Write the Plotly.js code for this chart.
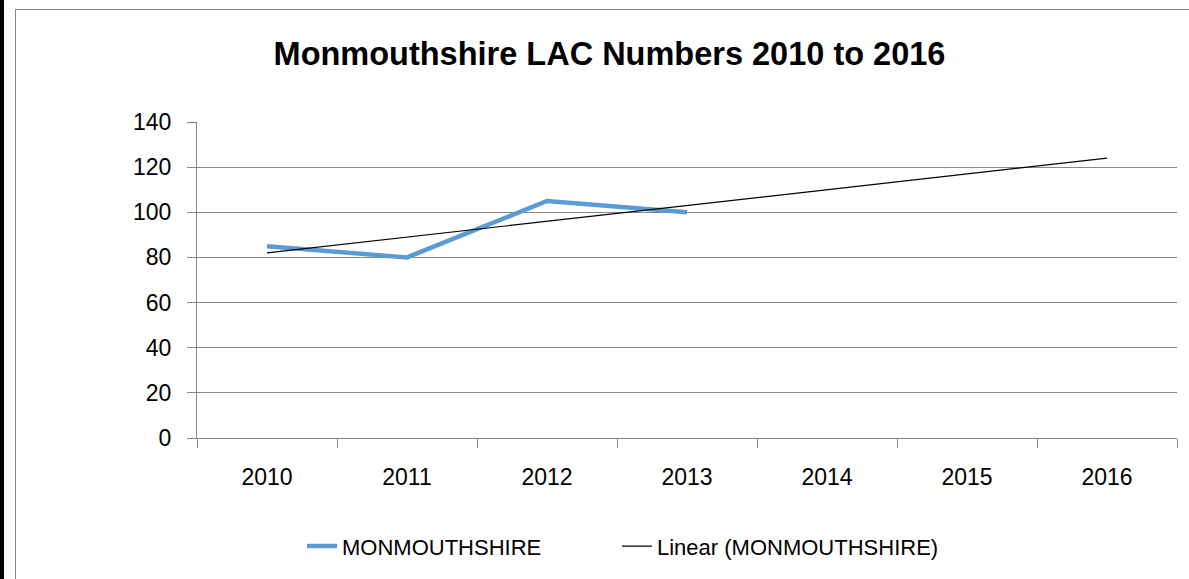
<!DOCTYPE html>
<html>
<head>
<meta charset="utf-8">
<script src="https://cdn.plot.ly/plotly-3.0.1.min.js"></script>
<style>
  html, body { margin: 0; padding: 0; background: #fff; width: 1189px; height: 579px; overflow: hidden; }
  #bar { position: absolute; left: 0; top: 0; width: 4px; height: 579px; background: #000; }
  #frame { position: absolute; left: 15px; top: 9px; width: 1200px; height: 620px; border: 1px solid #868686; box-sizing: border-box; }
  #chart { position: absolute; left: 0; top: 0; width: 1189px; height: 579px; }
</style>
</head>
<body>
<div id="bar"></div>
<div id="frame"></div>
<div id="chart"></div>
<script>
// Data
const years = ["2010", "2011", "2012", "2013", "2014", "2015", "2016"];
const seriesYears = ["2010", "2011", "2012", "2013"];
const monmouthshire = [85, 80, 105, 100];
const trendYears = ["2010", "2011", "2012", "2013", "2014", "2015", "2016"];
const trendValues = [82, 89, 96, 103, 110, 117, 124];
const yTicks = [0, 20, 40, 60, 80, 100, 120, 140];

const fontFam = '"Liberation Sans", Arial, sans-serif';
const grid = '#878787';

const traces = [
  {
    type: 'scatter', mode: 'lines', name: 'MONMOUTHSHIRE',
    x: seriesYears, y: monmouthshire,
    line: { color: '#5B9BD5', width: 4.5 },
    legend: 'legend'
  },
  {
    type: 'scatter', mode: 'lines', name: 'Linear (MONMOUTHSHIRE)',
    x: trendYears, y: trendValues,
    line: { color: '#000000', width: 1.2 },
    legend: 'legend2'
  }
];

const legY = (440.7 - 550) / 319;
const legendBase = {
  orientation: 'h', xanchor: 'left', yanchor: 'middle', y: legY,
  font: { family: fontFam, size: 22, color: '#000' },
  bgcolor: 'rgba(0,0,0,0)', borderwidth: 0
};

const layout = {
  width: 1189, height: 579,
  paper_bgcolor: 'rgba(0,0,0,0)',
  plot_bgcolor: 'rgba(0,0,0,0)',
  margin: { l: 197, r: 12, t: 122, b: 138 },
  font: { family: fontFam, color: '#000' },
  title: {
    text: '<b>Monmouthshire LAC Numbers 2010 to 2016</b>',
    font: { family: fontFam, size: 32.5, color: '#000' },
    x: 0.5126, xanchor: 'center', xref: 'container',
    y: 1 - 54 / 579, yanchor: 'middle', yref: 'container'
  },
  xaxis: {
    type: 'category', categoryorder: 'array', categoryarray: years,
    range: [-0.5, 6.5],
    tickson: 'boundaries', ticks: 'outside', ticklen: 9, tickcolor: grid, tickwidth: 1,
    showline: true, linecolor: grid, linewidth: 1,
    showgrid: false, zeroline: false,
    tickfont: { family: fontFam, size: 23, color: '#000' },
    ticklabelstandoff: 18,
    fixedrange: true
  },
  yaxis: {
    range: [0, 140], tickvals: yTicks, ticktext: yTicks.map(String),
    ticks: 'outside', ticklen: 9, tickcolor: grid, tickwidth: 1,
    showline: true, linecolor: grid, linewidth: 1,
    showgrid: true, gridcolor: grid, gridwidth: 1, zeroline: false,
    tickfont: { family: fontFam, size: 23, color: '#000' },
    ticklabelstandoff: 11,
    fixedrange: true
  },
  showlegend: true,
  legend: Object.assign({}, legendBase, { x: (302 - 197) / 980 }),
  legend2: Object.assign({}, legendBase, { x: (617 - 197) / 980 })
};

Plotly.newPlot('chart', traces, layout, { staticPlot: true, displayModeBar: false });
</script>
</body>
</html>
